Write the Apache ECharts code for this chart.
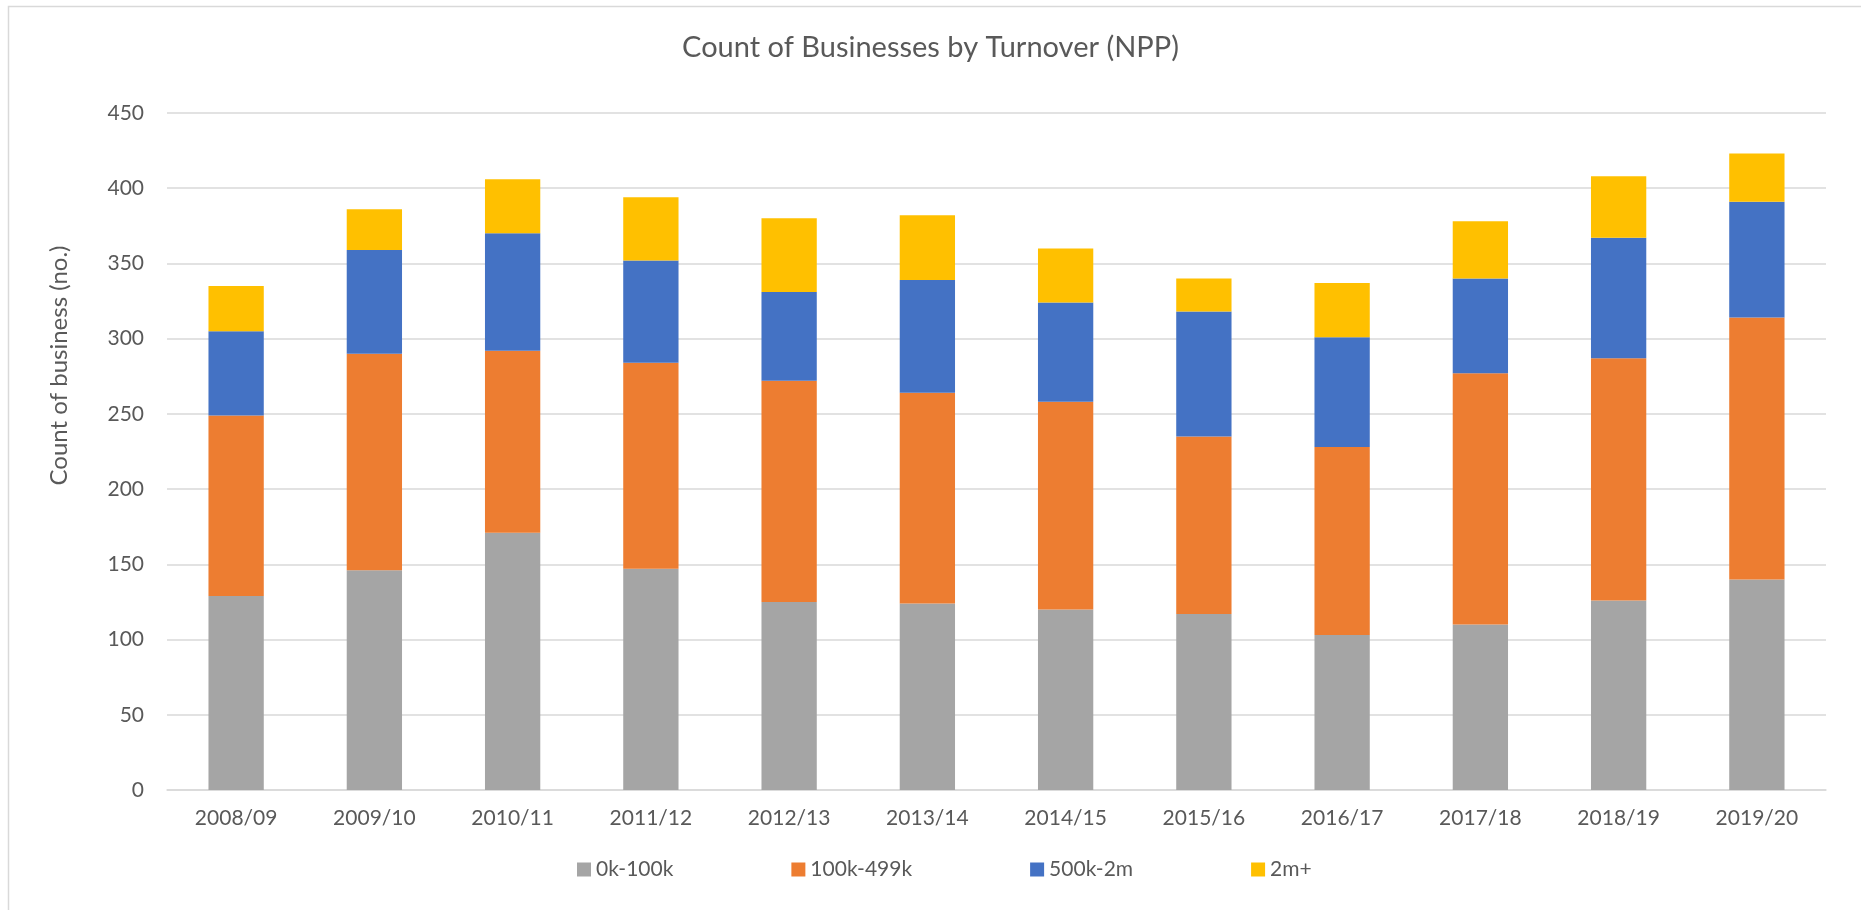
<!DOCTYPE html>
<html>
<head>
<meta charset="utf-8">
<title>Count of Businesses by Turnover (NPP)</title>
<script src="https://cdn.jsdelivr.net/npm/echarts@6/dist/echarts.min.js"></script>
<style>
  html, body { margin: 0; padding: 0; background: #fff; }
  #chart { width: 1861px; height: 910px; }
</style>
</head>
<body>
<div id="chart"></div>
<script>
// values
const years = ['2008/09', '2009/10', '2010/11', '2011/12', '2012/13', '2013/14',
  '2014/15', '2015/16', '2016/17', '2017/18', '2018/19', '2019/20']
const band0k100k = [129, 146, 171, 147, 125, 124, 120, 117, 103, 110, 126, 140]
const band100k499k = [120, 144, 121, 137, 147, 140, 138, 118, 125, 167, 161, 174]
const band500k2m = [56, 69, 78, 68, 59, 75, 66, 83, 73, 63, 80, 77]
const band2mPlus = [30, 27, 36, 42, 49, 43, 36, 22, 36, 38, 41, 32]
const yTicks = [0, 50, 100, 150, 200, 250, 300, 350, 400, 450]

const textColor = '#595959'
const gridColor = '#d9d9d9'
const font = 'Lato'

const chart = echarts.init(document.getElementById('chart'))

function band(name, data, color) {
  return {
    name: name,
    type: 'bar',
    stack: 'total',
    barWidth: '40%',
    itemStyle: { color: color },
    emphasis: { disabled: true },
    data: data
  }
}

const option = {
  animation: false,
  backgroundColor: '#fff',
  textStyle: { fontFamily: font, color: textColor },
  graphic: [{
    // chart frame, as in the spreadsheet export
    type: 'rect',
    silent: true,
    shape: { x: 8.5, y: 6.5, width: 1900, height: 1000 },
    style: { fill: 'none', stroke: gridColor, lineWidth: 1.5 }
  }],
  title: {
    text: 'Count of Businesses by Turnover (NPP)',
    left: 'center',
    top: 33,
    padding: 0,
    textStyle: { fontFamily: font, fontSize: 29, fontWeight: 'normal', color: textColor }
  },
  legend: {
    left: 577,
    top: 859,
    padding: 0,
    itemWidth: 14,
    itemHeight: 14,
    itemGap: 118,
    icon: 'rect',
    textStyle: { fontFamily: font, fontSize: 21, color: textColor },
    data: ['0k-100k', '100k-499k', '500k-2m', '2m+']
  },
  grid: { left: 167, right: 35, top: 113, bottom: 120 },
  xAxis: {
    type: 'category',
    data: years,
    axisTick: { show: false },
    axisLine: { lineStyle: { color: gridColor, width: 1.5 } },
    axisLabel: { margin: 18, fontSize: 21, color: textColor, fontFamily: font }
  },
  yAxis: {
    type: 'value',
    min: yTicks[0],
    max: yTicks[yTicks.length - 1],
    interval: 50,
    name: 'Count of business (no.)',
    nameLocation: 'middle',
    nameGap: 96,
    nameTextStyle: { fontSize: 24, color: textColor, fontFamily: font, padding: [0, 0, 0, 172] },
    axisLine: { show: false },
    axisTick: { show: false },
    axisLabel: { margin: 23, fontSize: 21, color: textColor, fontFamily: font },
    splitLine: { lineStyle: { color: gridColor, width: 1.5 } }
  },
  series: [
    band('0k-100k', band0k100k, '#a5a5a5'),
    band('100k-499k', band100k499k, '#ed7d31'),
    band('500k-2m', band500k2m, '#4472c4'),
    band('2m+', band2mPlus, '#ffc000')
  ]
}

chart.setOption(option)
</script>
</body>
</html>
